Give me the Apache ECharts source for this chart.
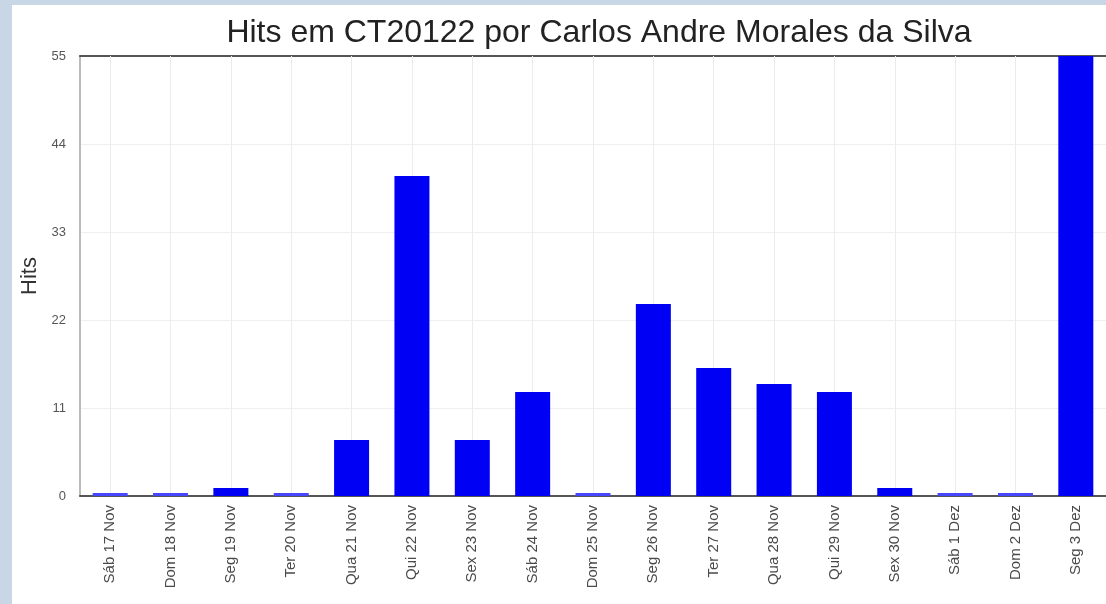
<!DOCTYPE html>
<html>
<head>
<meta charset="utf-8">
<script src="https://cdn.jsdelivr.net/npm/echarts@6/dist/echarts.min.js"></script>
<style>
  html, body { margin: 0; padding: 0; background: #c9d6e6; }
  #chart { width: 1106px; height: 604px; }
</style>
</head>
<body>
<div id="chart"></div>
<script>
// Hits por dia
const days = ["Sáb 17 Nov", "Dom 18 Nov", "Seg 19 Nov", "Ter 20 Nov", "Qua 21 Nov", "Qui 22 Nov",
  "Sex 23 Nov", "Sáb 24 Nov", "Dom 25 Nov", "Seg 26 Nov", "Ter 27 Nov", "Qua 28 Nov",
  "Qui 29 Nov", "Sex 30 Nov", "Sáb 1 Dez", "Dom 2 Dez", "Seg 3 Dez"];
const hits = [0, 0, 1, 0, 7, 40, 7, 13, 0, 24, 16, 14, 13, 1, 0, 0, 55];
const yTicks = [0, 11, 22, 33, 44, 55];

// dias sem hits aparecem como uma faixa fina mais clara
const barData = hits.map(v => v === 0 ? { value: v, itemStyle: { color: "#4646ff" } } : v);

const chart = echarts.init(document.getElementById("chart"));
chart.setOption({
  backgroundColor: "#c9d6e6",
  animation: false,
  graphic: [{
    type: "rect", z: -10, silent: true,
    shape: { x: 12, y: 5, width: 1106, height: 610 },
    style: { fill: "#ffffff" },
  }],
  title: {
    text: "Hits em CT20122 por Carlos Andre Morales da Silva",
    left: 594, top: 12, textAlign: "center",
    textStyle: { fontFamily: "Liberation Sans", fontSize: 32, fontWeight: "normal", color: "#222" },
  },
  grid: { left: 80, right: -2, top: 56, bottom: 108 },
  xAxis: [{
    type: "category", data: days, boundaryGap: true,
    axisLine: { lineStyle: { color: "#555", width: 2 } },
    // marcas internas longas = linhas de grade no centro de cada barra
    axisTick: { show: true, alignWithLabel: true, inside: true, length: 440, lineStyle: { color: "#ececec" } },
    axisLabel: {
      rotate: 90, interval: 0, margin: 9,
      fontFamily: "Liberation Sans", fontSize: 15, color: "#4a4a4a",
    },
    splitLine: { show: false },
  }, {
    type: "category", data: days, position: "top",
    axisLine: { show: true, lineStyle: { color: "#555", width: 2 } },
    axisTick: { show: false }, axisLabel: { show: false }, splitLine: { show: false },
  }],
  yAxis: {
    type: "value", min: 0, max: yTicks[yTicks.length - 1], interval: 11,
    name: "Hits", nameLocation: "middle", nameGap: 29,
    nameTextStyle: { fontFamily: "Liberation Sans", fontSize: 22, color: "#333" },
    axisLine: { show: true, lineStyle: { color: "#bbb", width: 2 } },
    axisTick: { show: false },
    axisLabel: { fontFamily: "Liberation Sans", fontSize: 13, color: "#555", margin: 14 },
    splitLine: { lineStyle: { color: "#efefef" } },
  },
  series: [{
    type: "bar", data: barData, barWidth: 35, barMinHeight: 3,
    itemStyle: { color: "#0000f5" },
  }],
});
</script>
</body>
</html>
